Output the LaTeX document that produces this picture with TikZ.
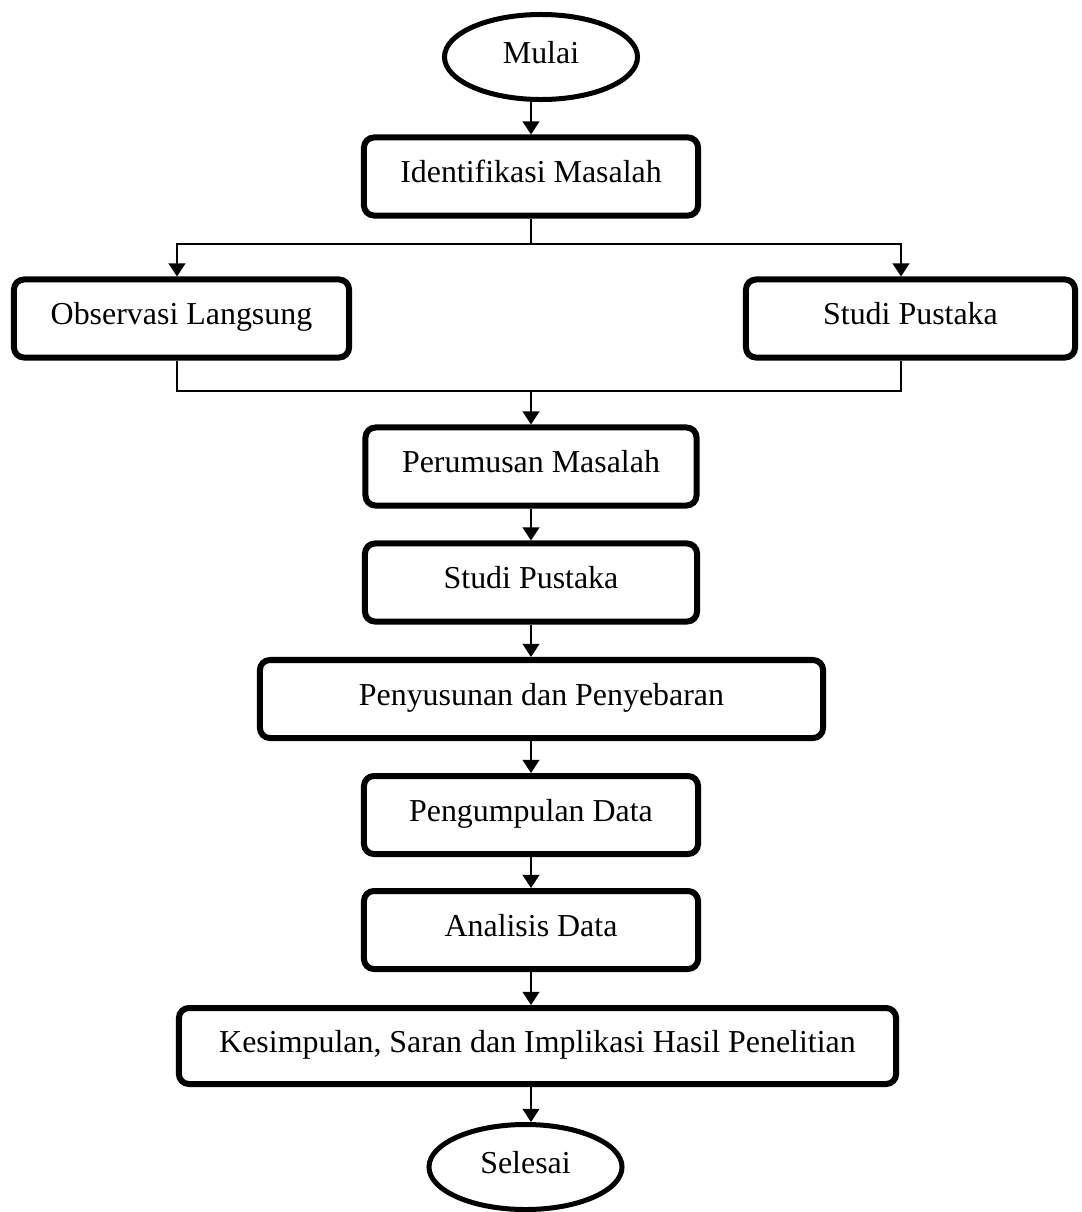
\documentclass[tikz,border=0pt]{standalone}
\usepackage{fontspec}
\setmainfont{Liberation Serif}
\usetikzlibrary{shapes.geometric,arrows.meta}
\begin{document}
\begin{tikzpicture}[x=0.025cm,y=-0.025cm,
  proc/.style={draw, line width=0.15cm, rounded corners=0.25cm, inner sep=0pt, minimum height=1.95cm, text height=15.9pt, text depth=6.8pt, font=\fontsize{22.7}{27}\selectfont},
  term/.style={draw, ellipse, line width=0.125cm, inner sep=0pt, minimum width=4.825cm, minimum height=2.125cm, text height=15.9pt, text depth=6.8pt, font=\fontsize{22.7}{27}\selectfont},
  arr/.style={line width=0.05cm, -{Triangle[length=0.33cm,width=0.42cm]}},
  ln/.style={line width=0.05cm}]
\useasboundingbox (0,0) rectangle (1081,1212);
\node[term] (fc0) at (541,57){Mulai};
\node[proc, minimum width=8.35cm] (fc1) at (531,176.5){Identifikasi Masalah};
\node[proc, minimum width=8.375cm] (fc2) at (181.5,318.5){Observasi Langsung};
\node[proc, minimum width=8.225cm] (fc3) at (910.5,318.5){Studi Pustaka};
\node[proc, minimum width=8.275cm] (fc4) at (531,466.5){Perumusan Masalah};
\node[proc, minimum width=8.3cm] (fc5) at (531,582.5){Studi Pustaka};
\node[proc, minimum width=14.075cm] (fc6) at (541.5,699){Penyusunan dan Penyebaran};
\node[proc, minimum width=8.35cm] (fc7) at (531,815){Pengumpulan Data};
\node[proc, minimum width=8.35cm] (fc8) at (531,930){Analisis Data};
\node[proc, minimum width=17.925cm, minimum height=1.9cm] (fc9) at (537.5,1046){Kesimpulan, Saran dan Implikasi Hasil Penelitian};
\node[term] (fc10) at (525.5,1167){Selesai};
\coordinate (j0) at (531,244);
\coordinate (j1) at (177,244);
\coordinate (j2) at (901,244);
\coordinate (j3) at (177,391);
\coordinate (j4) at (901,391);
\coordinate (j5) at (531,391);
\draw[arr] (fc1 |- fc0.south) -- (fc1.north);
\draw[ln] (fc1.south) -- (j0);
\draw[arr] (j0) -- (j1) -- (j1 |- fc2.north);
\draw[arr] (j0) -- (j2) -- (j2 |- fc3.north);
\draw[ln] (j3 |- fc2.south) -- (j3) -- (j4) -- (j4 |- fc3.south);
\draw[arr] (j5) -- (fc4.north);
\draw[arr] (fc4.south) -- (fc5.north);
\draw[arr] (fc5.south) -- (fc5 |- fc6.north);
\draw[arr] (fc7 |- fc6.south) -- (fc7.north);
\draw[arr] (fc7.south) -- (fc8.north);
\draw[arr] (fc8.south) -- (fc8 |- fc9.north);
\draw[arr] (fc8 |- fc9.south) -- (fc8 |- fc10.north);

\end{tikzpicture}
\end{document}
